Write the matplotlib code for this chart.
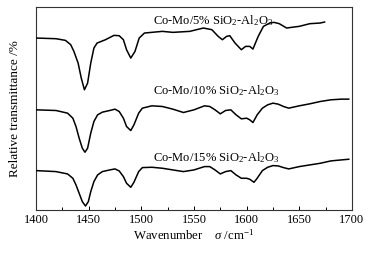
import matplotlib
matplotlib.use("Agg")
import matplotlib.pyplot as plt
from matplotlib.ticker import MultipleLocator

plt.rcParams['font.family'] = ['Liberation Serif', 'DejaVu Serif']
plt.rcParams['mathtext.fontset'] = 'custom'
plt.rcParams['mathtext.rm'] = 'Liberation Serif'
plt.rcParams['mathtext.it'] = 'Liberation Serif:italic'

x5 = [1400,1419,1428,1433,1436,1440,1443,1446,1449,1452,1455,1458,1466,1474,1479,1483,1486,1490,1494,1498,
      1503,1520,1530,1546,1559,1567,1573,1577,1581,1584,1589,1595,1599,1603,1606,1611,1616,1622,1626,1631,
      1638,1645,1650,1660,1670,1674]
y5 = [515,513,508,495,475,440,395,360,380,440,485,500,510,523,522,510,480,455,475,515,
      530,535,532,535,545,540,520,510,520,522,500,480,490,490,482,520,550,560,562,558,
      545,548,550,558,560,563]

x10 = [1400,1419,1430,1435,1438,1441,1444,1446.5,1449,1452,1455,1458.5,1463,1470,1475,1479,1483,1486,1490,1493,
       1497.5,1501,1510,1520,1530,1540,1550,1560,1565,1570,1575,1580,1585,1590,1595,1600,1603,1606,1610,1615,
       1620,1625,1630,1635,1640,1650,1660,1670,1680,1690,1697]
y10 = [300,298,290,275,250,215,185,173,185,230,265,285,293,298,302,295,275,250,238,255,
       290,305,312,310,302,292,300,312,310,300,288,298,300,285,273,275,270,262,285,305,
       315,320,317,310,305,312,318,325,330,332,332]

x15 = [1400,1419,1430,1435,1438,1441,1444,1447,1449.7,1452,1455,1458.5,1463,1470,1475,1479,1483,1486,1490,1493,
       1497.5,1501,1510,1520,1530,1540,1550,1560,1565,1570,1575,1580,1585,1590,1595,1600,1603,1607,1610,1615,
       1620,1625,1630,1635,1640,1650,1660,1670,1680,1690,1697]
y15 = [118,115,108,95,75,50,25,12,25,55,85,105,115,120,123,117,100,80,68,83,
       115,127,128,125,120,115,120,130,130,120,108,115,118,105,95,95,92,83,95,118,
       128,133,132,127,123,130,135,140,147,150,152]

labels = ['Co-Mo/5% SiO$_2$-Al$_2$O$_3$', 'Co-Mo/10% SiO$_2$-Al$_2$O$_3$', 'Co-Mo/15% SiO$_2$-Al$_2$O$_3$']
label_x = [1511, 1511, 1511]
label_y = [566, 358, 156]

fig = plt.figure(figsize=(3.76, 2.56), dpi=100)
ax = fig.add_axes([0.0957, 0.1797, 0.8403, 0.793])

for xs, ys in [(x5, y5), (x10, y10), (x15, y15)]:
    ax.plot(xs, ys, color='black', lw=1.1, zorder=3, solid_joinstyle='round')
for lx, ly, t in zip(label_x, label_y, labels):
    ax.text(lx, ly, t, fontsize=9, ha='left', va='center', zorder=2)

ax.set_xlim(1400, 1700)
ax.set_ylim(0, 608)
ax.xaxis.set_major_locator(MultipleLocator(50))
ax.xaxis.set_minor_locator(MultipleLocator(25))
ax.tick_params(axis='x', which='major', direction='in', length=3, width=0.7, labelsize=9, pad=3, top=False)
ax.tick_params(axis='x', which='minor', direction='in', length=2, width=0.7, top=False)
ax.set_yticks([])
for s in ax.spines.values():
    s.set_linewidth(0.8)
    s.set_color('#333333')
ax.set_xlabel('Wavenumber    $\\mathit{\\sigma}$ /cm$^{-1}$', fontsize=9.2, labelpad=1)
ax.set_ylabel('Relative transmittance /%', fontsize=9.5, labelpad=11)

fig.savefig('out.png', dpi=100)
